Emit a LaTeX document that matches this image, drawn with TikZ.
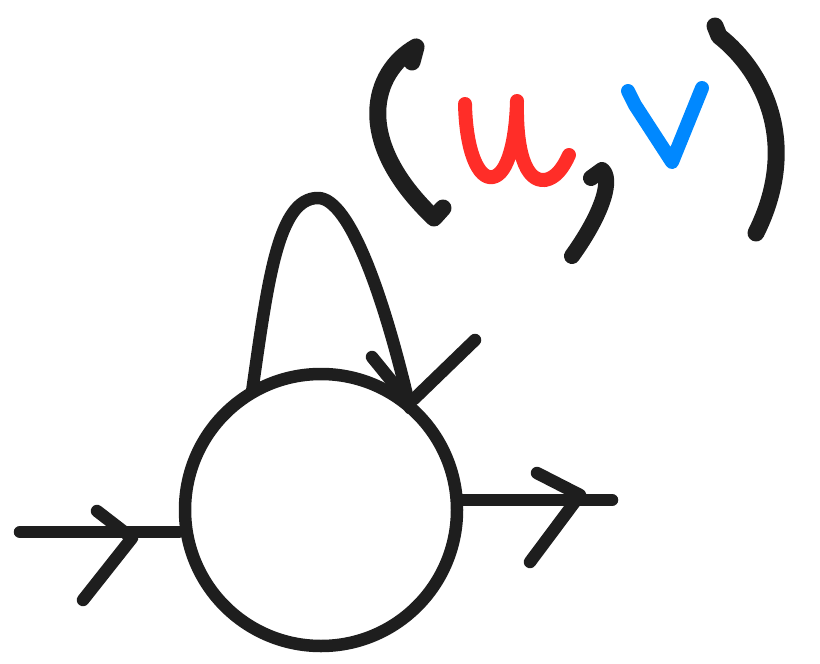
\documentclass[tikz,border=0pt]{standalone}
\usetikzlibrary{calc}
\definecolor{ink}{RGB}{30,30,30}
\definecolor{sred}{RGB}{255,45,40}
\definecolor{sblue}{RGB}{0,136,255}
\begin{document}
\begin{tikzpicture}[x=1pt,y=-1pt,
  stroke/.style={line width=12.5pt,line cap=round,line join=round,draw=ink},
  glyph/.style={line width=14pt,line cap=round,line join=round},
  paren/.style={line width=17pt,line cap=round,line join=round,draw=ink}]
\useasboundingbox (0,0) rectangle (820,664);
% block
\node[circle,stroke,minimum size=272pt,inner sep=0pt] (c) at (321,510) {};
% input
\coordinate (in0) at (20,532);
\draw[stroke] (in0) -- (c.west |- in0);
\draw[stroke] (97,511) -- (132,538) -- (83,600);
% output
\coordinate (out1) at (612,500);
\draw[stroke] (c.east |- out1) -- (out1);
\draw[stroke] (537,473) -- (580,495) -- (530,562);
% feedback loop
\coordinate (l0) at (252,392);
\coordinate (l1) at (410,408);
\draw[stroke] (l0) .. controls (268,280) and (278,198) .. (318,198)
  .. controls (350,198) and (385,300) .. (l1);
\draw[stroke] (372,357) -- (407,400);
\draw[stroke] (475,340) -- (414,399);
% (u,v)
\draw[paren] (412,62) -- (416,47) .. controls (372,72) and (352,140) .. (434,218) -- (443,208);
\draw[glyph,draw=sred] (465,104) .. controls (466,150) and (478,180) .. (493,177)
  .. controls (508,174) and (516,140) .. (517,101)
  .. controls (516,150) and (525,182) .. (545,180)
  .. controls (556,178) and (563,168) .. (569,155);
\draw[paren,line width=16pt] (591,178) -- (602,170) .. controls (612,178) and (605,210) .. (572,256);
\draw[glyph,draw=sblue] (628,91) -- (635,105) -- (672,162) -- (702,88);
\draw[paren] (715,26) -- (719,36) .. controls (765,72) and (800,145) .. (756,233);
\end{tikzpicture}
\end{document}
